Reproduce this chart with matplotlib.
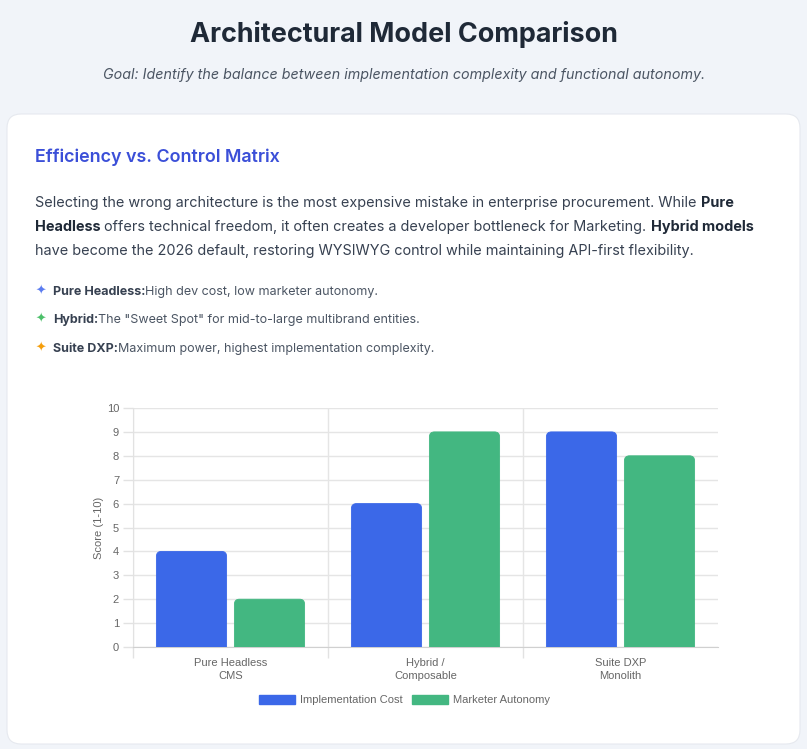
import matplotlib
matplotlib.use("Agg")
import matplotlib.pyplot as plt
from matplotlib.patches import FancyBboxPatch, Patch
from matplotlib.transforms import IdentityTransform
import numpy as np

# Chart data
categories = ["Pure Headless\nCMS", "Hybrid /\nComposable", "Suite DXP\nMonolith"]
implementation_cost = [4, 6, 9]
marketer_autonomy = [2, 9, 8]
series_names = ["Implementation Cost", "Marketer Autonomy"]
y_ticks = list(range(0, 11))

W, H = 807, 749
BLUE = "#3b68e8"
GREEN = "#43b781"
TEXT = "#374151"
CHART_FS = 8.0

fig = plt.figure(figsize=(W / 100, H / 100), dpi=100)
fig.patch.set_facecolor("#f1f4f9")


def px(x, y):
    """ Convert pixel position (top-left origin) to figure coords """
    return x / W, 1 - y / H


# White card
card = FancyBboxPatch((7, H - 744), 793, 630, boxstyle="round,pad=0,rounding_size=14",
                      transform=IdentityTransform(), facecolor="white", edgecolor="#e6e9ef",
                      linewidth=0.8, zorder=-5)
fig.patches.append(card)

fig.text(*px(403.5, 42), "Architectural Model Comparison", ha="center", va="baseline",
         fontsize=19.4, fontweight="bold", family="Inter", color="#1f2937")
fig.text(*px(404, 79), "Goal: Identify the balance between implementation complexity and functional autonomy.",
         ha="center", va="baseline", fontsize=10.3, style="italic", family="Inter", color="#4b5563")
fig.text(*px(35, 162), "Efficiency vs. Control Matrix", ha="left", va="baseline",
         fontsize=12.9, fontweight="semibold", family="Inter", color="#3b4fd8")

renderer = fig.canvas.get_renderer()


def runs(x, y, parts, size, family=("Inter", "DejaVu Sans")):
    """ Draw a line of mixed-style text runs starting at pixel x, baseline y """
    for txt, weight, color in parts:
        t = fig.text(*px(x, y), txt, ha="left", va="baseline", fontsize=size,
                     fontweight=weight, family=list(family), color=color)
        bb = t.get_window_extent(renderer)
        x += bb.width


runs(35, 207, [("Selecting the wrong architecture is the most expensive mistake in enterprise procurement. While ", "normal", TEXT),
               ("Pure", "bold", "#1f2937")], 10.4)
runs(35, 231, [("Headless", "bold", "#1f2937"),
               (" offers technical freedom, it often creates a developer bottleneck for Marketing. ", "normal", TEXT),
               ("Hybrid models", "bold", "#1f2937")], 10.4)
runs(35, 255, [("have become the 2026 default, restoring WYSIWYG control while maintaining API-first flexibility.", "normal", TEXT)], 10.4)

bullets = [
    ("#5b7cf0", "Pure Headless:", "High dev cost, low marketer autonomy.", 295),
    ("#4cc06a", "Hybrid:", "The \"Sweet Spot\" for mid-to-large multibrand entities.", 323),
    ("#f59e0b", "Suite DXP:", "Maximum power, highest implementation complexity.", 352),
]
for color, head, body, yb in bullets:
    fig.text(*px(36, yb), "\u2726", ha="left", va="baseline", fontsize=9, family="DejaVu Sans", color=color)
    runs(53, yb, [(head, "bold", "#374151"), (body, "normal", "#4b5563")], 9.0)

# Bar chart
ax = fig.add_axes([133 / W, 1 - 647 / H, 585 / W, 239 / H])
ax.set_facecolor("none")
x = np.arange(len(categories))
bw = 0.36
bars1 = ax.bar(x - 0.2, implementation_cost, bw, color=BLUE)
bars2 = ax.bar(x + 0.2, marketer_autonomy, bw, color=GREEN)

ax.set_xlim(-0.5, 2.5)
ax.set_ylim(0, 10)

# swap rectangles for bars with rounded tops
aspect = (10 / 239) / (3 / 585)
r = 5 * 3 / 585
for bars, color in [(bars1, BLUE), (bars2, GREEN)]:
    for rect in bars:
        rect.set_visible(False)
        x0, w, h = rect.get_x(), rect.get_width(), rect.get_height()
        p = FancyBboxPatch((x0, -1), w, h + 1, boxstyle=f"round,pad=0,rounding_size={r}",
                           mutation_aspect=aspect, facecolor=color, edgecolor=color,
                           linewidth=0.6, zorder=3, clip_on=True)
        ax.add_patch(p)

ax.set_yticks(y_ticks)
ax.set_xticks(x)
ax.set_xticklabels(categories)
ax.set_xticks([-0.5, 0.5, 1.5], minor=True)
ax.tick_params(axis="x", which="major", length=0, pad=8, labelsize=CHART_FS, labelcolor="#666666")
ax.tick_params(axis="x", which="minor", length=8, color="#e2e2e2", width=1)
ax.tick_params(axis="y", length=7, color="#e2e2e2", width=1, pad=3, labelsize=CHART_FS, labelcolor="#666666")
for lbl in ax.get_xticklabels() + ax.get_yticklabels():
    lbl.set_family("Liberation Sans")
    lbl.set_linespacing(1.3)
ax.grid(axis="y", color="#e5e5e5", linewidth=1)
ax.grid(axis="x", which="minor", color="#e5e5e5", linewidth=1)
ax.set_axisbelow(True)
for side in ["top", "right"]:
    ax.spines[side].set_visible(False)
ax.spines["left"].set_color("#e2e2e2")
ax.spines["bottom"].set_color("#d0d0d0")
ax.set_ylabel("Score (1-10)", fontsize=CHART_FS, color="#666666", family="Liberation Sans", labelpad=2)

# legend is centred on the whole chart box, not the plot area
handles = [Patch(facecolor=BLUE, edgecolor=BLUE), Patch(facecolor=GREEN, edgecolor=GREEN)]
leg = ax.legend(handles, series_names, loc="center",
                bbox_to_anchor=((404.5 - 133) / 585, 1 - (700 - 408) / 239),
                ncol=2, frameon=False, handlelength=3.25, handleheight=0.95, columnspacing=0.9,
                handletextpad=0.45, prop={"family": "Liberation Sans", "size": CHART_FS})
for t in leg.get_texts():
    t.set_color("#666666")

fig.savefig("out.png", dpi=100, facecolor=fig.get_facecolor())
